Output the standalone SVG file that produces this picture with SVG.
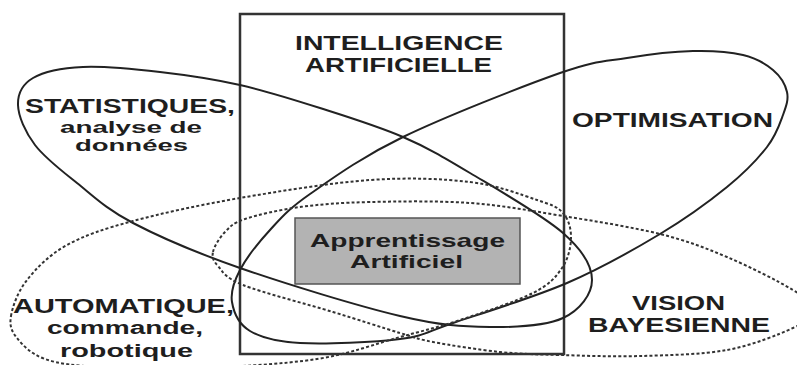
<svg xmlns="http://www.w3.org/2000/svg" width="797" height="365" viewBox="0 0 797 365">
<style>
.solid{fill:none;stroke:#222;stroke-width:2}
.dot{fill:none;stroke:#333;stroke-width:2;stroke-dasharray:3 2.2}
.t{font-family:"Liberation Sans",Arial,sans-serif;font-weight:bold;font-size:20px;fill:#1e1e1e}
.s{font-size:16px}
.m{font-size:18px}
</style>
<rect x="0" y="0" width="797" height="365" fill="#fff"/>
<g id="intelligence-artificielle">
<rect x="240" y="14" width="324" height="340" fill="none" stroke="#333" stroke-width="2.5"/>
<text class="t" x="295" y="50" textLength="208" lengthAdjust="spacingAndGlyphs">INTELLIGENCE</text>
<text class="t" x="305" y="72" textLength="187" lengthAdjust="spacingAndGlyphs">ARTIFICIELLE</text>
</g>
<g id="statistiques">
<path class="solid" d="M18,105 C17.67,93.83 22.170,84.33 33,78 C43.83,71.67 61.83,68 83,67 C104.17,66 133.83,69 160,72 C186.17,75 213.33,79 240,85 C266.67,91 292.83,99.33 320,108 C347.17,116.67 378,126.17 403,137 C428,147.83 443.33,157 470,173 C496.67,189 542.67,215.17 563,233 C583.33,250.83 592,265.83 592,280 C592,294.17 580,310.17 563,318 C546,325.83 517.17,327.33 490,327 C462.83,326.67 441.67,325.83 400,316 C358.33,306.17 284.5,283.5 240,268 C195.5,252.5 160.17,237.17 133,223 C105.83,208.83 93.33,196 77,183 C60.67,170 44.83,158 35,145 C25.17,132 18.33,116.17 18,105 Z"/>
<text class="t" x="25" y="113" textLength="210" lengthAdjust="spacingAndGlyphs">STATISTIQUES,</text>
<text class="t s" x="60" y="133" textLength="142" lengthAdjust="spacingAndGlyphs">analyse de</text>
<text class="t s" x="75" y="151" textLength="113" lengthAdjust="spacingAndGlyphs">données</text>
</g>
<g id="optimisation">
<path class="solid" d="M232,302 C230.33,291.83 233.67,282 240,270 C246.33,258 258.33,242.67 270,230 C281.67,217.33 287.83,209.5 310,194 C332.17,178.5 361.33,157.17 403,137 C444.67,116.83 522.67,86.17 560,73 C597.33,59.83 604.83,61.67 627,58 C649.17,54.33 673.67,51.5 693,51 C712.33,50.5 729.67,51.83 743,55 C756.33,58.17 765.67,63.83 773,70 C780.33,76.17 785.33,84.5 787,92 C788.67,99.5 786.33,105.83 783,115 C779.67,124.17 776.33,135 767,147 C757.67,159 744.83,172.5 727,187 C709.17,201.5 686.67,218 660,234 C633.33,250 601.5,268.17 567,283 C532.5,297.83 480.83,313.67 453,323 C425.17,332.33 425.5,335.67 400,339 C374.5,342.33 325,344.33 300,343 C275,341.67 261.33,337.83 250,331 C238.67,324.17 233.67,312.17 232,302 Z"/>
<text class="t" x="572" y="127" textLength="201" lengthAdjust="spacingAndGlyphs">OPTIMISATION</text>
</g>
<g id="automatique">
<path class="dot" d="M11,316 C12.67,306.33 17.67,291.83 27,280 C36.33,268.17 49.33,254.83 67,245 C84.67,235.17 104.17,228.83 133,221 C161.83,213.17 200.5,204.83 240,198 C279.5,191.17 331.67,182.67 370,180 C408.33,177.33 442.17,178.67 470,182 C497.83,185.33 521.5,194.83 537,200 C552.5,205.17 557.33,206.67 563,213 C568.67,219.33 571.17,228.83 571,238 C570.83,247.17 568.33,258.83 562,268 C555.67,277.17 550,284.33 533,293 C516,301.67 482.17,312.67 460,320 C437.83,327.33 423.83,330.5 400,337 C376.17,343.5 350.33,353.83 317,359 C283.67,364.17 236.17,366.67 200,368 C163.83,369.33 125.83,368.5 100,367 C74.17,365.5 58.83,363.83 45,359 C31.17,354.17 22.67,345.17 17,338 C11.33,330.83 9.33,325.67 11,316 Z"/>
<text class="t" x="13" y="313" textLength="221" lengthAdjust="spacingAndGlyphs">AUTOMATIQUE,</text>
<text class="t m" x="47" y="334" textLength="156" lengthAdjust="spacingAndGlyphs">commande,</text>
<text class="t m" x="60" y="357" textLength="133" lengthAdjust="spacingAndGlyphs">robotique</text>
</g>
<g id="vision-bayesienne">
<path class="dot" d="M213,252 C214.17,246.33 219.67,237.5 225,232 C230.33,226.5 232.5,223.17 245,219 C257.5,214.83 279.17,209.83 300,207 C320.83,204.17 341.67,202.67 370,202 C398.33,201.33 437.83,200.67 470,203 C502.17,205.33 531.33,210.83 563,216 C594.67,221.17 632.67,227.17 660,234 C687.33,240.83 704.83,247.67 727,257 C749.17,266.33 778.33,281.17 793,290 C807.67,298.83 815,303.67 815,310 C815,316.33 807.67,321.33 793,328 C778.33,334.67 752.5,345.33 727,350 C701.5,354.67 667.83,355.17 640,356 C612.17,356.83 583.33,355.67 560,355 C536.67,354.33 521.17,354.17 500,352 C478.83,349.83 449.67,345.17 433,342 C416.33,338.83 416.67,338 400,333 C383.33,328 359.17,320 333,312 C306.830,304 262.17,292.67 243,285 C223.83,277.33 223,271.5 218,266 C213,260.5 211.83,257.67 213,252 Z"/>
<text class="t" x="632" y="310" textLength="93" lengthAdjust="spacingAndGlyphs">VISION</text>
<text class="t" x="588" y="332" textLength="182" lengthAdjust="spacingAndGlyphs">BAYESIENNE</text>
</g>
<g id="apprentissage-artificiel">
<rect x="295" y="218" width="225" height="66" fill="#b3b3b3" stroke="#555" stroke-width="1.5"/>
<text class="t" style="font-size:19px" x="310" y="247" textLength="195" lengthAdjust="spacingAndGlyphs">Apprentissage</text>
<text class="t" style="font-size:18.5px" x="350" y="268" textLength="113" lengthAdjust="spacingAndGlyphs">Artificiel</text>
</g>
<g id="connectors"/>
</svg>
